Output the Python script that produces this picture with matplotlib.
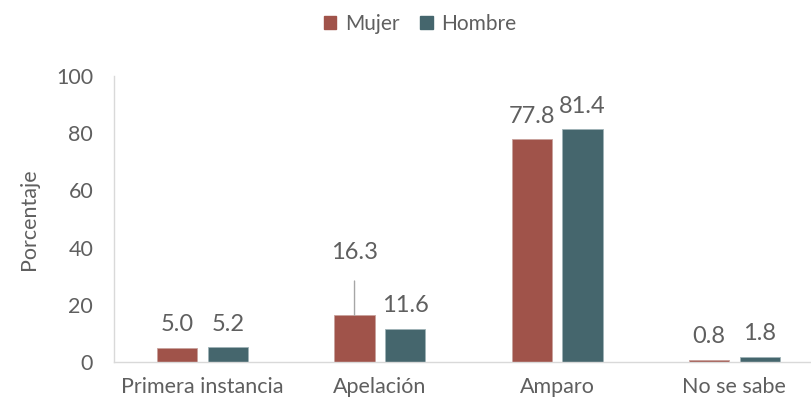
import matplotlib
matplotlib.use("Agg")
import matplotlib.pyplot as plt
import numpy as np
from matplotlib.patches import Patch

categories = ["Primera instancia", "Apelación", "Amparo", "No se sabe"]
mujer = [5.0, 16.3, 77.8, 0.8]
hombre = [5.2, 11.6, 81.4, 1.8]
series_names = ["Mujer", "Hombre"]
yticks = [0, 20, 40, 60, 80, 100]

c_mujer = "#A0534A"
c_hombre = "#45666D"
txt = "#5F5F5F"

plt.rcParams["font.family"] = ["Lato", "DejaVu Sans"]

fig = plt.figure(figsize=(8.12, 4.04), dpi=100)
L, R, B, T = 114, 823, 362, 76
ax = fig.add_axes([L / 812, (404 - B) / 404, (R - L) / 812, (B - T) / 404])

x = np.arange(len(categories))
w = 0.226
off = 0.143
ax.bar(x - off, mujer, w, color=c_mujer, edgecolor="#C9A19C", linewidth=0.6)
ax.bar(x + off, hombre, w, color=c_hombre, edgecolor="#9FB3B7", linewidth=0.6)

ax.set_xlim(-0.5, 3.5)
ax.set_ylim(0, 100)
ax.set_yticks(yticks)
ax.set_xticks(x)
ax.set_xticklabels(categories)
ax.tick_params(axis="both", length=0, colors=txt, labelsize=15.5)
ax.tick_params(axis="y", pad=15)
ax.tick_params(axis="x", pad=11)
for s in ["top", "right"]:
    ax.spines[s].set_visible(False)
for s in ["left", "bottom"]:
    ax.spines[s].set_color("#D9D9D9")
    ax.spines[s].set_linewidth(1.0)

ax.set_ylabel("Porcentaje", color=txt, fontsize=15.5, labelpad=12)

for i, (m, h) in enumerate(zip(mujer, hombre)):
    if i == 1:
        ax.annotate(f"{m:.1f}", xy=(i - off, m), xytext=(i - off, 38.3),
                    ha="center", va="center", fontsize=17, color=txt,
                    arrowprops=dict(arrowstyle="-", color="#A6A6A6", lw=1,
                                    shrinkA=11, shrinkB=0))
    else:
        ax.annotate(f"{m:.1f}", xy=(i - off, m), xytext=(0, 9),
                    textcoords="offset points", ha="center", va="bottom",
                    fontsize=17, color=txt)
    ax.annotate(f"{h:.1f}", xy=(i + off, h), xytext=(0, 9),
                textcoords="offset points", ha="center", va="bottom",
                fontsize=17, color=txt)

handles = [Patch(color=c_mujer), Patch(color=c_hombre)]
fig.legend(handles, series_names, loc="center", bbox_to_anchor=(420 / 812, 1 - 24 / 404),
           ncol=2, frameon=False, handlelength=0.6, handleheight=0.6,
           handletextpad=0.4, columnspacing=1.0, fontsize=15, labelcolor=txt)

fig.savefig("out.png", dpi=100)
